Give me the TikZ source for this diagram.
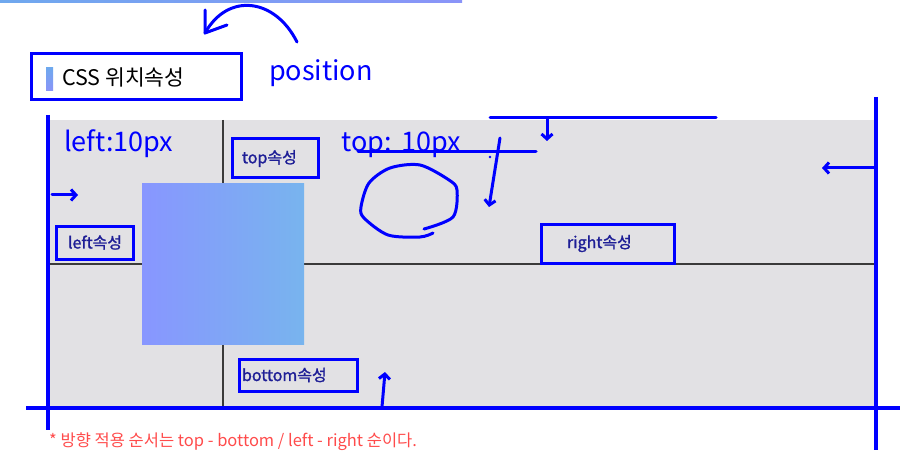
\documentclass[tikz,border=0pt]{standalone}
\usepackage{fontspec}
\setmainfont{Noto Sans CJK KR}
\newfontfamily\tagfont{Noto Sans CJK KR}[FakeBold=1.3]
\usetikzlibrary{arrows.meta,positioning}
\definecolor{PenBlue}{HTML}{0000FF}
\definecolor{TagInk}{HTML}{1E1E96}
\definecolor{BoardGray}{HTML}{E2E1E4}
\definecolor{GridDark}{HTML}{3A3A3A}
\definecolor{NoteRed}{HTML}{FF4B4B}
\definecolor{BoxLeft}{HTML}{8896FF}
\definecolor{BoxRight}{HTML}{78B4EE}
\definecolor{StripLeft}{HTML}{6FA8EE}
\definecolor{StripRight}{HTML}{8A94F8}

\begin{document}
\begin{tikzpicture}[
  x=1pt,y=-1pt,
  pen/.style={draw=PenBlue,line width=3pt,line cap=round,line join=round},
  penarr/.style={pen,-{Straight Barb[length=5pt,width=11pt]}},
  axis/.style={draw=PenBlue,line width=4pt},
  gridline/.style={draw=GridDark,line width=1.6pt},
  tag/.style={draw=PenBlue,line width=3pt,text=TagInk,
    font=\tagfont\fontsize{16}{19}\selectfont,inner ysep=0pt,align=left},
  note/.style={text=PenBlue,font=\fontsize{27}{31}\selectfont,
    inner sep=0pt,anchor=base west}
]
\useasboundingbox (0,0) rectangle (915,473);
\shade[left color=StripLeft,right color=StripRight] (0,0) rectangle (462,2.5);

\fill[BoardGray] (48,120) rectangle (876,408);
\draw[gridline] (223,120) -- (223,408);
\draw[gridline] (48,264) -- (876,264);
\node[left color=BoxLeft,right color=BoxRight,inner sep=0pt,
  minimum width=162pt,minimum height=160pt] (elem) at (223,264) {};

\draw[axis] (48,115) -- (48,430);
\draw[axis] (26,408) -- (900,408);
\draw[axis] (876,97) -- (876,450);

\node[draw=PenBlue,line width=3pt,inner sep=0pt,
  minimum width=210pt,minimum height=46pt] (title) at (136,77) {};
\shade[top color=StripLeft,bottom color=StripRight] (46,68) rectangle (53,91);
\node[anchor=base west,inner sep=0pt,font=\fontsize{21.5}{24}\selectfont]
  (titletext) at (62,86) {CSS 위치속성};
\node[note] (pos) at (269,81) {position};

\coordinate (curveStart) at (297,42);
\coordinate (curveTip) at (205,33);
\draw[pen] (curveStart) .. controls (275,-2) and (228,-8) .. (curveTip);
\draw[pen] (205,10) -- (curveTip) -- (227,25);

\node[note] (leftval) at (64,152) {left:10px};
\node[note] (topval) at (341,152) {top:\hspace{0.35em}10px};

\node[tag,text width=66pt,inner xsep=10pt,minimum height=39pt] (topTag) at (275,158.5) {top속성};
\node[tag,text width=53pt,inner xsep=12pt,minimum height=33pt] (leftTag) at (94.5,242.5) {left속성};
\node[tag,text width=81pt,inner xsep=26pt,minimum height=39pt] (rightTag) at (607.5,243.5) {right속성};
\node[tag,text width=112pt,inner xsep=3pt,minimum height=32pt] (bottomTag) at (298,375) {bottom속성};

\draw[penarr] (52,195) -- (78,195);
\draw[pen] (490,118) -- (716,118);
\draw[penarr] (547,118) -- (547,141);
\draw[pen] (358,152) -- (536,152);
\fill[PenBlue] (490,157) circle (1.3pt);
\draw[penarr] (500,138) -- (489,207);
\draw[penarr] (876,168) -- (822,168);
\draw[penarr] (382,407) -- (385,372);
\draw[pen] plot[smooth] coordinates {(424,229) (453,217) (457,190) (449,180)
  (420,165) (390,168) (369,183) (361,207) (364,218) (388,235) (420,237) (433,233)};

\node[anchor=base west,inner sep=0pt,text=NoteRed,font=\fontsize{16.5}{19}\selectfont]
  (rule) at (49,446) {* 방향 적용 순서는 top - bottom / left - right 순이다.};
\end{tikzpicture}
\end{document}
